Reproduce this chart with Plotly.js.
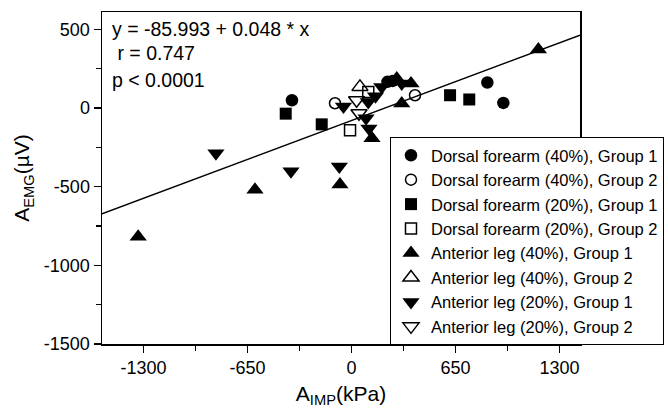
<!DOCTYPE html>
<html>
<head>
<meta charset="utf-8">
<script src="https://cdn.plot.ly/plotly-3.0.1.min.js"></script>
<style>html,body{margin:0;padding:0;background:#fff}#chart{width:668px;height:408px}</style>
</head>
<body>
<div id="chart"></div>
<script>
// ---- data ----
const seriesNames = [
  "Dorsal forearm (40%), Group 1",
  "Dorsal forearm (40%), Group 2",
  "Dorsal forearm (20%), Group 1",
  "Dorsal forearm (20%), Group 2",
  "Anterior leg (40%), Group 1",
  "Anterior leg (40%), Group 2",
  "Anterior leg (20%), Group 1",
  "Anterior leg (20%), Group 2"
];
const dfa40g1X = [-372, 225, 258, 849, 949];
const dfa40g1Y = [49, 166, 172, 162, 32];
const dfa40g2X = [-103, 397];
const dfa40g2Y = [30, 81];
const dfa20g1X = [-411, -186, 616, 736];
const dfa20g1Y = [-36, -104, 81, 54];
const dfa20g2X = [-9, 105];
const dfa20g2Y = [-142, 102];
const al40g1X = [-1333, -603, -72, 1168, 314, 128, 283, 372];
const al40g1Y = [-818, -520, -486, 372, 28, -193, 187, 156];
const al40g2X = [53];
const al40g2Y = [134];
const al20g1X = [-847, -378, -76, -50, 105, 150, 189, 314, 91, 109];
const al20g1Y = [-287, -402, -372, 10, 38, 75, 134, 156, -66, -130];
const al20g2X = [32, 47];
const al20g2Y = [49, -34];
// fitted regression line as drawn (end points at the frame edges)
const fitX = [-1559, 1428];
const fitY = [-673, 463];
const statLines = ["y = -85.993 + 0.048 * x", " r = 0.747", "p < 0.0001"];
const xTicks = [-1300, -650, 0, 650, 1300];
const xMinor = [-975, -325, 325, 975];
const yTicks = [-1500, -1000, -500, 0, 500];
const yMinor = [-1250, -750, -250, 250];

const FONT = "Liberation Sans, Arial, sans-serif";
const ink = "#000";

function pts(name, x, y, symbol, size) {
  const open = symbol.indexOf("-open") >= 0;
  return {
    type: "scatter", mode: "markers", name: name, x: x, y: y,
    marker: {symbol: symbol, size: size, color: ink,
             line: {color: ink, width: open ? 1.5 : 0}},
    cliponaxis: false
  };
}

const traces = [
  {type: "scatter", mode: "lines", x: fitX, y: fitY, showlegend: false,
   line: {color: ink, width: 1.5}, hoverinfo: "skip"},
  pts(seriesNames[0], dfa40g1X, dfa40g1Y, "circle", 12.5),
  pts(seriesNames[1], dfa40g2X, dfa40g2Y, "circle-open", 11),
  pts(seriesNames[2], dfa20g1X, dfa20g1Y, "square", 12),
  pts(seriesNames[3], dfa20g2X, dfa20g2Y, "square-open", 11),
  pts(seriesNames[4], al40g1X, al40g1Y, "triangle-up", 15),
  pts(seriesNames[5], al40g2X, al40g2Y, "triangle-up-open", 14),
  pts(seriesNames[6], al20g1X, al20g1Y, "triangle-down", 15),
  pts(seriesNames[7], al20g2X, al20g2Y, "triangle-down-open", 14)
];

const axisCommon = {
  showline: true, linecolor: ink, linewidth: 1.5, mirror: true,
  showgrid: false, zeroline: false,
  ticks: "outside", ticklen: 7, tickwidth: 1.5, tickcolor: ink,
  tickfont: {family: FONT, size: 18, color: ink},
  fixedrange: true
};

const layout = {
  width: 668, height: 408,
  paper_bgcolor: "#fff", plot_bgcolor: "#fff",
  margin: {l: 102, r: 88, t: 12, b: 64, autoexpand: false},
  font: {family: FONT, color: ink},
  showlegend: true,
  xaxis: Object.assign({}, axisCommon, {
    range: [-1559, 1428], tickmode: "array", tickvals: xTicks,
    ticktext: xTicks.map(String),
    minor: {tickmode: "array", tickvals: xMinor, ticks: "outside", ticklen: 5, tickwidth: 1.5, tickcolor: ink, showgrid: false},
    title: {text: "A<sub>IMP</sub>(kPa)", font: {family: FONT, size: 21, color: ink}, standoff: 10}
  }),
  yaxis: Object.assign({}, axisCommon, {
    range: [-1500, 610], tickmode: "array", tickvals: yTicks,
    ticktext: yTicks.map(String),
    minor: {tickmode: "array", tickvals: yMinor, ticks: "outside", ticklen: 5, tickwidth: 1.5, tickcolor: ink, showgrid: false},
    title: {text: "A<sub>EMG</sub>(µV)", font: {family: FONT, size: 21, color: ink}, standoff: 8}
  }),
  legend: {
    x: 0.6025, y: 0.6235, xanchor: "left", yanchor: "top",
    bgcolor: "#fff", bordercolor: ink, borderwidth: 1,
    font: {family: FONT, size: 16.5, color: ink},
    tracegroupgap: 0
  },
  annotations: [
    {xref: "paper", yref: "paper", x: 0.0167, y: 0.9488, xanchor: "left", yanchor: "middle",
     text: statLines[0], showarrow: false, font: {family: FONT, size: 19.5, color: ink}},
    {xref: "paper", yref: "paper", x: 0.0167, y: 0.8765, xanchor: "left", yanchor: "middle",
     text: statLines[1], showarrow: false, font: {family: FONT, size: 19.5, color: ink}},
    {xref: "paper", yref: "paper", x: 0.0167, y: 0.795, xanchor: "left", yanchor: "middle",
     text: statLines[2], showarrow: false, font: {family: FONT, size: 19.5, color: ink}}
  ]
};

Plotly.newPlot("chart", traces, layout, {displayModeBar: false, staticPlot: true});
</script>
</body>
</html>
